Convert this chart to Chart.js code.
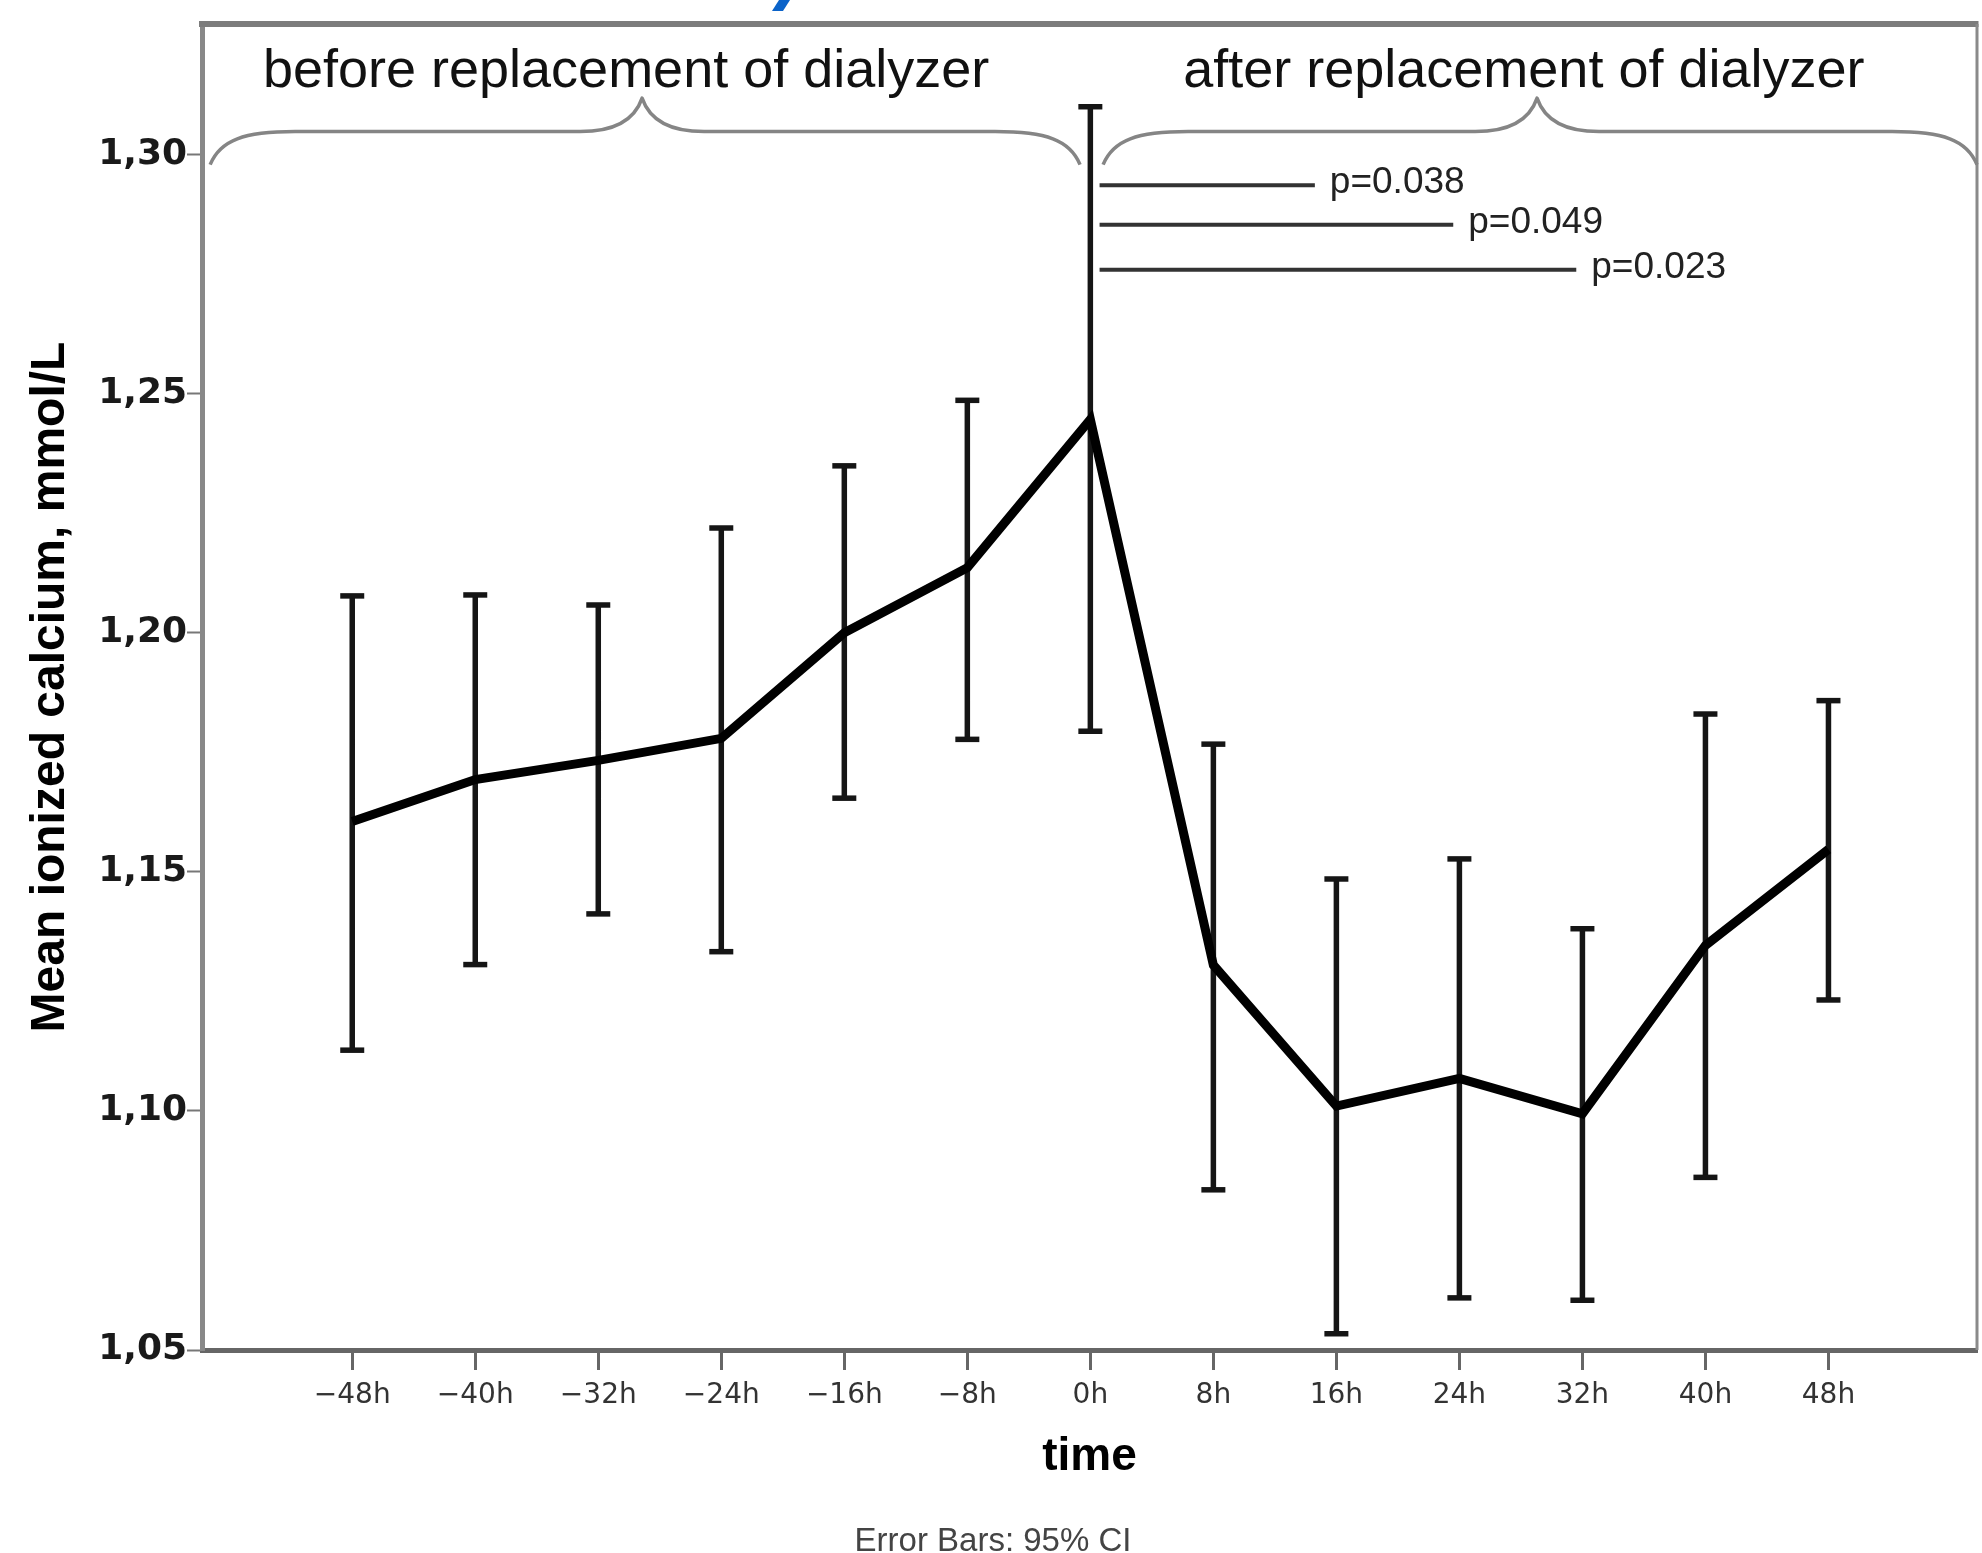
<!DOCTYPE html>
<html>
<head>
<meta charset="utf-8">
<script src="https://cdn.jsdelivr.net/npm/chart.js@4.4.0/dist/chart.umd.min.js"></script>
<style>
html,body{margin:0;padding:0;background:#fff;overflow:hidden}
canvas{display:block}
</style>
</head>
<body>
<canvas id="c" width="1982" height="1553"></canvas>
<script>
// ---- data ----
const hours = [-48, -40, -32, -24, -16, -8, 0, 8, 16, 24, 32, 40, 48];
const xTickLabels = ['\u221248h', '\u221240h', '\u221232h', '\u221224h', '\u221216h', '\u22128h', '0h', '8h', '16h', '24h', '32h', '40h', '48h'];
const meanCa  = [1.1605, 1.1693, 1.1733, 1.1779, 1.2000, 1.2136, 1.2446, 1.1305, 1.1010, 1.1068, 1.0994, 1.1346, 1.1547];
const ciUpper = [1.2077, 1.2079, 1.2058, 1.2219, 1.2349, 1.2486, 1.3100, 1.1767, 1.1485, 1.1527, 1.1381, 1.1830, 1.1858];
const ciLower = [1.1127, 1.1306, 1.1412, 1.1333, 1.1654, 1.1777, 1.1794, 1.0835, 1.0534, 1.0609, 1.0604, 1.0861, 1.1232];
const yTickValues = [1.05, 1.10, 1.15, 1.20, 1.25, 1.30];
const yTickLabels = ['1,05', '1,10', '1,15', '1,20', '1,25', '1,30'];
const pLabels = ['p=0.038', 'p=0.049', 'p=0.023'];
const pLevels = [1.2936, 1.2853, 1.2759];
const pStart = [0.6, 0.6, 0.6];
const pEnd = [14.6, 23.6, 31.6];
const braceTexts = ['before replacement of dialyzer', 'after replacement of dialyzer'];
const braceFrom = [-57.24, 0.83];
const bracePeak = [-29.15, 29.05];
const braceTo = [-0.67, 57.66];
const braceTextX = [-30.19, 28.19];

// ---- datasets built from the arrays ----
const meanData = hours.map((h, i) => ({x: h, y: meanCa[i]}));
const errData = [];
hours.forEach((h, i) => { errData.push({x: h, y: ciLower[i]}, {x: h, y: ciUpper[i]}, {x: h, y: null}); });
const pData = [];
pLevels.forEach((v, i) => { pData.push({x: pStart[i], y: v}, {x: pEnd[i], y: v}, {x: pEnd[i], y: null}); });

const decor = {
  id: 'decor',
  afterDraw(chart) {
    const {ctx, chartArea: a, scales: {x, y}} = chart;
    ctx.save();
    // top and right frame
    ctx.strokeStyle = '#7c7c7c';
    ctx.lineWidth = 6;
    ctx.beginPath(); ctx.moveTo(a.left - 3, a.top); ctx.lineTo(a.right + 1.5, a.top); ctx.stroke();
    ctx.strokeStyle = '#8a8a8a';
    ctx.lineWidth = 3;
    ctx.beginPath(); ctx.moveTo(a.right, a.top); ctx.lineTo(a.right, a.bottom); ctx.stroke();

    // braces
    ctx.strokeStyle = '#858585';
    ctx.lineWidth = 3.5;
    ctx.lineJoin = 'round';
    const yTip = y.getPixelForValue(1.2979), yBar = y.getPixelForValue(1.3048), yPk = y.getPixelForValue(1.3118);
    const ec = 85, cc = 62;
    for (let i = 0; i < braceTexts.length; i++) {
      const x1 = x.getPixelForValue(braceFrom[i]);
      const xm = x.getPixelForValue(bracePeak[i]);
      const x2 = x.getPixelForValue(braceTo[i]);
      ctx.beginPath();
      ctx.moveTo(x1, yTip);
      ctx.bezierCurveTo(x1 + ec * 0.12, yBar + (yTip - yBar) * 0.25, x1 + ec * 0.4, yBar, x1 + ec, yBar);
      ctx.lineTo(xm - cc, yBar);
      ctx.bezierCurveTo(xm - cc * 0.45, yBar, xm - cc * 0.12, yBar - (yBar - yPk) * 0.35, xm, yPk);
      ctx.bezierCurveTo(xm + cc * 0.12, yBar - (yBar - yPk) * 0.35, xm + cc * 0.45, yBar, xm + cc, yBar);
      ctx.lineTo(x2 - ec, yBar);
      ctx.bezierCurveTo(x2 - ec * 0.4, yBar, x2 - ec * 0.12, yBar + (yTip - yBar) * 0.25, x2, yTip);
      ctx.stroke();
      ctx.fillStyle = '#111';
      ctx.font = '54px "Liberation Sans", Arial, sans-serif';
      ctx.textAlign = 'center';
      ctx.textBaseline = 'alphabetic';
      ctx.fillText(braceTexts[i], x.getPixelForValue(braceTextX[i]), 87);
    }

    // p-value labels
    ctx.fillStyle = '#222';
    ctx.font = '37px "Liberation Sans", Arial, sans-serif';
    ctx.textAlign = 'left';
    ctx.textBaseline = 'middle';
    for (let i = 0; i < pLabels.length; i++) {
      ctx.fillText(pLabels[i], x.getPixelForValue(pEnd[i]) + 15, y.getPixelForValue(pLevels[i]) - 2);
    }

    // footnote
    ctx.fillStyle = '#444';
    ctx.font = '33px "Liberation Sans", Arial, sans-serif';
    ctx.textAlign = 'center';
    ctx.textBaseline = 'alphabetic';
    ctx.fillText('Error Bars: 95% CI', 993, 1551);

    // cut-off blue fragment at the very top
    ctx.fillStyle = '#0b63c9';
    ctx.beginPath();
    ctx.moveTo(779, 0); ctx.lineTo(790, 0); ctx.lineTo(783, 11); ctx.lineTo(772, 11); ctx.closePath();
    ctx.fill();
    ctx.restore();
  }
};

new Chart(document.getElementById('c'), {
  type: 'line',
  data: {
    datasets: [
      {
        label: 'mean',
        data: meanData,
        order: 0,
        borderColor: '#000',
        borderWidth: 9,
        borderJoinStyle: 'miter',
        pointRadius: 0,
        tension: 0,
        fill: false
      },
      {
        label: 'ci',
        data: errData,
        order: 1,
        borderColor: '#151515',
        borderWidth: 5.5,
        spanGaps: false,
        pointStyle: 'line',
        pointRadius: 12,
        pointBorderWidth: 5.5,
        pointBorderColor: '#151515',
        fill: false
      },
      {
        label: 'p',
        data: pData,
        order: 2,
        borderColor: '#333',
        borderWidth: 4,
        spanGaps: false,
        pointRadius: 0,
        fill: false
      }
    ]
  },
  options: {
    responsive: false,
    animation: false,
    events: [],
    devicePixelRatio: 1,
    layout: {autoPadding: false, padding: {left: 0, top: 24, right: 5, bottom: 0}},
    plugins: {legend: {display: false}, tooltip: {enabled: false}, title: {display: false}},
    scales: {
      x: {
        type: 'linear',
        min: -57.77,
        max: 57.66,
        afterBuildTicks: (s) => { s.ticks = hours.map(v => ({value: v})); },
        afterFit: (s) => { s.height = 203; s.paddingLeft = 0; s.paddingRight = 0; },
        ticks: {
          autoSkip: false,
          maxRotation: 0,
          padding: 9,
          color: '#333',
          font: {family: '"DejaVu Sans"', size: 28},
          callback: (v) => xTickLabels[hours.indexOf(v)]
        },
        grid: {drawOnChartArea: false, drawTicks: true, tickLength: 20, tickColor: '#666', tickWidth: 3},
        border: {display: true, color: '#666', width: 5},
        title: {
          display: true,
          text: 'time',
          color: '#000',
          font: {family: '"Liberation Sans"', size: 46, weight: 'bold'},
          padding: {top: 0, bottom: 68}
        }
      },
      y: {
        type: 'linear',
        min: 1.05,
        max: 1.3273,
        afterBuildTicks: (s) => { s.ticks = yTickValues.map(v => ({value: v})); },
        afterFit: (s) => { s.width = 202; s.paddingTop = 0; s.paddingBottom = 0; },
        ticks: {
          padding: 0,
          color: '#1a1a1a',
          font: {family: '"DejaVu Sans"', size: 36, weight: 'bold'},
          callback: (v) => yTickLabels[yTickValues.findIndex(t => Math.abs(t - v) < 1e-9)]
        },
        grid: {drawOnChartArea: false, drawTicks: true, tickLength: 15, tickColor: '#777', tickWidth: 2},
        border: {display: true, color: '#888', width: 5},
        title: {
          display: true,
          text: 'Mean ionized calcium, mmol/L',
          color: '#000',
          font: {family: '"Liberation Sans"', size: 48, weight: 'bold'},
          padding: {top: 22, bottom: 0}
        }
      }
    }
  },
  plugins: [decor]
});
</script>
</body>
</html>
